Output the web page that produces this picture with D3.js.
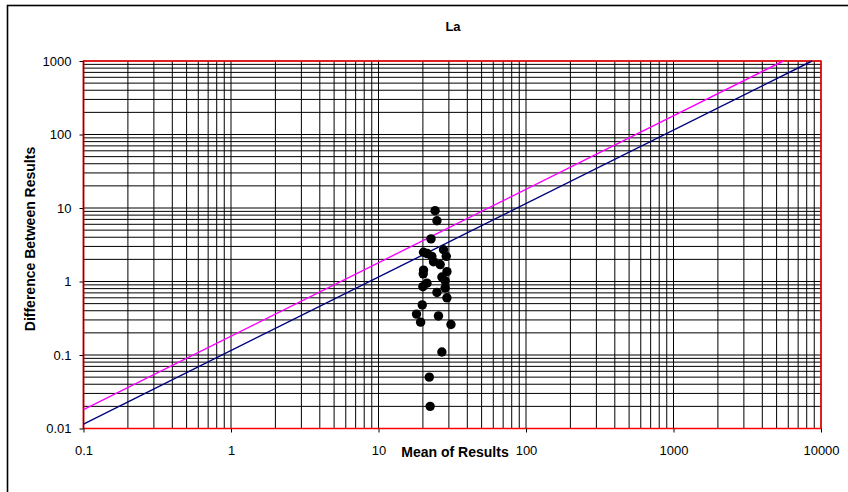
<!DOCTYPE html>
<html>
<head>
<meta charset="utf-8">
<script src="https://cdn.jsdelivr.net/npm/d3@7"></script>
<style>
  html, body { margin: 0; padding: 0; background: #fff; }
  svg { display: block; }
</style>
</head>
<body>
<svg id="chart" width="848" height="492"></svg>
<script>
// Replicate pairs: mean of the two results vs. absolute difference
const meanOfResults = [24.2, 24.9, 22.7, 20.2, 21.4, 23.0, 23.6, 27.6, 28.8, 26.2,
  20.2, 20.1, 29.1, 26.9, 28.3, 21.3, 20.0, 28.3, 24.9, 29.1,
  19.8, 18.1, 19.3, 25.5, 31.0, 26.9, 22.1, 22.4];
const differenceBetweenResults = [9.2, 6.7, 3.8, 2.5, 2.4, 2.2, 1.86, 2.7, 2.2, 1.7,
  1.43, 1.27, 1.36, 1.15, 1.02, 0.95, 0.85, 0.82, 0.71, 0.6,
  0.48, 0.36, 0.28, 0.34, 0.26, 0.11, 0.05, 0.02];

// Precision limit lines: difference = factor * mean
const limitFactors = [0.18, 0.115];
const limitColors = ["#ff00ff", "#000080"];

const xTickValues = [0.1, 1, 10, 100, 1000, 10000];
const xTickLabels = ["0.1", "1", "10", "100", "1000", "10000"];
const yTickValues = [0.01, 0.1, 1, 10, 100, 1000];
const yTickLabels = ["0.01", "0.1", "1", "10", "100", "1000"];

const chartTitle = "La";
const xTitle = "Mean of Results";
const yTitle = "Difference Between Results";

const svg = d3.select("#chart");
const font = "'Liberation Sans', Arial, sans-serif";

const plot = { left: 83.5, right: 821, top: 61, bottom: 428.5 };

const x = d3.scaleLog().domain([0.1, 10000]).range([plot.left, plot.right]);
const y = d3.scaleLog().domain([0.01, 1000]).range([plot.bottom, plot.top]);

// outer chart frame
svg.append("rect")
  .attr("x", 7.5).attr("y", 5.5)
  .attr("width", 900).attr("height", 600)
  .attr("fill", "#fff").attr("stroke", "#000").attr("stroke-width", 1.6);

// grid lines at every 1..9 multiple of each decade
const g = svg.append("g");
g.selectAll("line.vg").data(x.ticks()).join("line")
  .attr("class", "vg")
  .attr("x1", d => x(d)).attr("x2", d => x(d))
  .attr("y1", plot.top).attr("y2", plot.bottom)
  .attr("stroke", "#000").attr("stroke-width", 1);
g.selectAll("line.hg").data(y.ticks()).join("line")
  .attr("class", "hg")
  .attr("y1", d => y(d)).attr("y2", d => y(d))
  .attr("x1", plot.left).attr("x2", plot.right)
  .attr("stroke", "#000").attr("stroke-width", 1);

// plot-area border
svg.append("rect")
  .attr("x", plot.left).attr("y", plot.top)
  .attr("width", plot.right - plot.left).attr("height", plot.bottom - plot.top)
  .attr("fill", "none").attr("stroke", "#ff0000").attr("stroke-width", 1.5);

// axes
const xAxis = d3.axisBottom(x).tickValues(xTickValues)
  .tickFormat((d, i) => xTickLabels[i]).tickSize(4).tickPadding(13);
const yAxis = d3.axisLeft(y).tickValues(yTickValues)
  .tickFormat((d, i) => yTickLabels[i]).tickSize(4).tickPadding(8);

const gx = svg.append("g").attr("transform", `translate(0,${plot.bottom})`).call(xAxis);
const gy = svg.append("g").attr("transform", `translate(${plot.left},0)`).call(yAxis);
[gx, gy].forEach(a => {
  a.select(".domain").remove();
  a.selectAll(".tick line").attr("stroke", "#000");
  a.selectAll(".tick text").attr("fill", "#000")
    .style("font-family", font).style("font-size", "13px");
});
svg.append("line")
  .attr("x1", plot.left).attr("x2", plot.left)
  .attr("y1", plot.top).attr("y2", plot.bottom)
  .attr("stroke", "#8b0000").attr("stroke-width", 1.5);

// limit lines, from x = 0.1 up to where they leave the top of the plot
const lineGen = d3.line().x(d => x(d[0])).y(d => y(d[1]));
limitFactors.forEach((k, i) => {
  const x0 = 0.1, x1 = Math.min(10000, 1000 / k);
  svg.append("path")
    .attr("d", lineGen([[x0, k * x0], [x1, k * x1]]))
    .attr("fill", "none").attr("stroke", limitColors[i]).attr("stroke-width", 1.4);
});

// data points
svg.append("g").selectAll("circle")
  .data(meanOfResults.map((m, i) => [m, differenceBetweenResults[i]]))
  .join("circle")
  .attr("cx", d => x(d[0])).attr("cy", d => y(d[1]))
  .attr("r", 4.7).attr("fill", "#000");

// titles
svg.append("text")
  .attr("x", 453).attr("y", 31).attr("text-anchor", "middle")
  .style("font-family", font).style("font-size", "13px").style("font-weight", "bold")
  .text(chartTitle);
svg.append("text")
  .attr("x", 455).attr("y", 457).attr("text-anchor", "middle")
  .style("font-family", font).style("font-size", "14px").style("font-weight", "bold")
  .text(xTitle);
svg.append("text")
  .attr("transform", "translate(35,239) rotate(-90)")
  .attr("text-anchor", "middle")
  .style("font-family", font).style("font-size", "14px").style("font-weight", "bold")
  .text(yTitle);
</script>
</body>
</html>
